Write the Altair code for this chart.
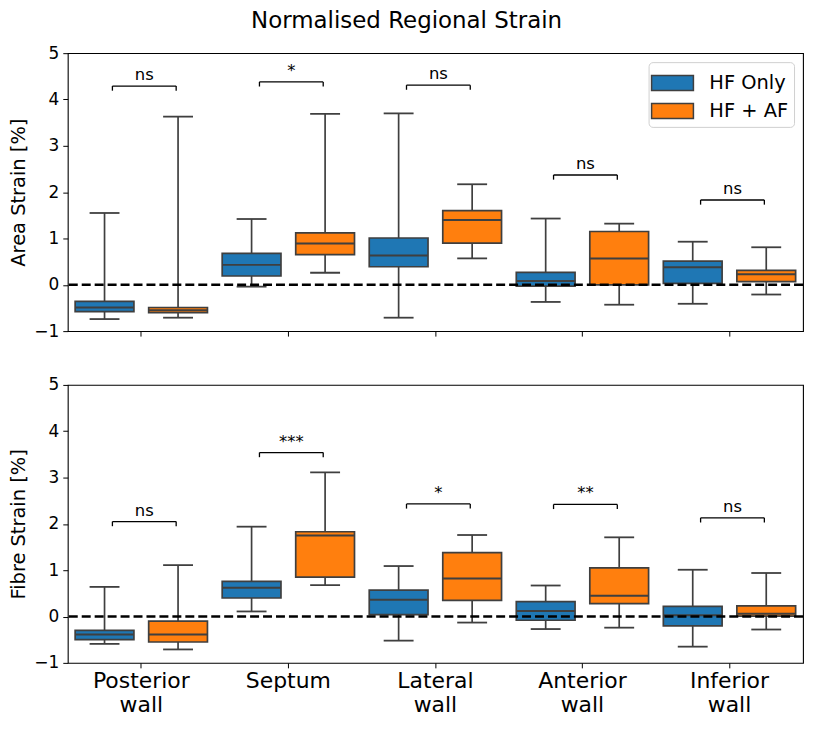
import altair as alt
import pandas as pd

regions = ["Posterior wall", "Septum", "Lateral wall", "Anterior wall", "Inferior wall"]
groups = ["HF Only", "HF + AF"]

# Area strain, HF Only
area_min_hf = [-0.74, -0.04, -0.71, -0.37, -0.41]
area_q1_hf = [-0.58, 0.19, 0.39, -0.03, 0.03]
area_med_hf = [-0.49, 0.43, 0.63, 0.08, 0.38]
area_q3_hf = [-0.36, 0.68, 1.01, 0.27, 0.51]
area_max_hf = [1.55, 1.42, 3.70, 1.43, 0.93]
# Area strain, HF + AF
area_min_af = [-0.71, 0.26, 0.57, -0.43, -0.21]
area_q1_af = [-0.60, 0.65, 0.90, 0.00, 0.07]
area_med_af = [-0.55, 0.89, 1.40, 0.57, 0.23]
area_q3_af = [-0.49, 1.12, 1.60, 1.15, 0.31]
area_max_af = [3.63, 3.69, 2.17, 1.32, 0.81]

# Fibre strain, HF Only
fibre_min_hf = [-0.59, 0.11, -0.52, -0.27, -0.65]
fibre_q1_hf = [-0.50, 0.40, 0.04, -0.08, -0.20]
fibre_med_hf = [-0.39, 0.62, 0.36, 0.12, 0.03]
fibre_q3_hf = [-0.30, 0.76, 0.57, 0.32, 0.22]
fibre_max_hf = [0.64, 1.94, 1.09, 0.67, 1.01]
# Fibre strain, HF + AF
fibre_min_af = [-0.71, 0.68, -0.13, -0.24, -0.28]
fibre_q1_af = [-0.55, 0.85, 0.35, 0.28, 0.01]
fibre_med_af = [-0.39, 1.75, 0.82, 0.45, 0.06]
fibre_q3_af = [-0.10, 1.83, 1.38, 1.05, 0.23]
fibre_max_af = [1.11, 3.11, 1.76, 1.71, 0.94]

# significance brackets
area_bracket = [4.29, 4.38, 4.31, 2.37, 1.83]
area_sig = ["ns", "*", "ns", "ns", "ns"]
fibre_bracket = [2.05, 3.54, 2.43, 2.42, 2.13]
fibre_sig = ["ns", "***", "*", "**", "ns"]

BLUE = "#1f77b4"
ORANGE = "#ff7f0e"
EDGE = "#3f3f3f"
FONT = "DejaVu Sans"


def box_table(stats_hf, stats_af):
    rows = []
    for g, stats in zip(groups, (stats_hf, stats_af)):
        lo, q1, med, q3, hi = stats
        for i, r in enumerate(regions):
            rows.append({"region": r, "group": g, "lo": lo[i], "q1": q1[i],
                         "med": med[i], "q3": q3[i], "hi": hi[i]})
    return pd.DataFrame(rows)


def sig_table(levels, labels):
    return pd.DataFrame({"region": regions, "b": levels, "label": labels})


area_df = box_table((area_min_hf, area_q1_hf, area_med_hf, area_q3_hf, area_max_hf),
                    (area_min_af, area_q1_af, area_med_af, area_q3_af, area_max_af))
fibre_df = box_table((fibre_min_hf, fibre_q1_hf, fibre_med_hf, fibre_q3_hf, fibre_max_hf),
                     (fibre_min_af, fibre_q1_af, fibre_med_af, fibre_q3_af, fibre_max_af))
area_sig_df = sig_table(area_bracket, area_sig)
fibre_sig_df = sig_table(fibre_bracket, fibre_sig)

W, H = 738, 279
BOX_W = 59


def panel(df, sdf, ytitle, bottom, legend):
    xscale = alt.Scale(domain=regions, paddingInner=0, paddingOuter=0)
    if bottom:
        xaxis = alt.Axis(title=None, labelAngle=0, labelExpr="split(datum.label, ' ')",
                         labelFontSize=22, labelLineHeight=24, labelPadding=3,
                         tickSize=5, domain=False, labelColor="black", tickColor="black",
                         labelFont=FONT)
    else:
        xaxis = alt.Axis(title=None, labels=False, tickSize=5, domain=False, tickColor="black")
    yscale = alt.Scale(domain=[-1, 5], nice=False, zero=False)
    yaxis = alt.Axis(title=ytitle, values=[-1, 0, 1, 2, 3, 4, 5], grid=False, domain=False,
                     tickSize=5, tickColor="black", labelFontSize=17, labelColor="black",
                     labelPadding=4, titleFontSize=19.5, titleFontWeight="normal",
                     titleColor="black", titlePadding=5, labelFont=FONT, titleFont=FONT)
    x = alt.X("region:N", sort=regions, scale=xscale, axis=xaxis)
    xo = alt.XOffset("group:N", sort=groups,
                     scale=alt.Scale(domain=groups, paddingInner=0, paddingOuter=0))

    base = alt.Chart(df).encode(x=x, xOffset=xo)
    whisk = base.mark_rule(color=EDGE, strokeWidth=1.7).encode(
        y=alt.Y("lo:Q", scale=yscale, axis=yaxis), y2="hi:Q")
    if legend:
        leg = alt.Legend(title=None, orient="top-right", offset=9, labelFontSize=19.5,
                         labelFont=FONT, labelColor="black",
                         symbolType="M-1.4,-0.5H1.4V0.5H-1.4Z", symbolSize=900,
                         symbolStrokeColor=EDGE, symbolStrokeWidth=1.5, symbolOpacity=1,
                         symbolOffset=3, labelOffset=21, padding=5, rowPadding=1,
                         fillColor="rgba(255,255,255,0.8)", strokeColor="#d0d0d0",
                         cornerRadius=4)
    else:
        leg = None
    boxes = base.mark_bar(width=BOX_W, stroke=EDGE, strokeWidth=1.7, opacity=1).encode(
        y="q1:Q", y2="q3:Q",
        color=alt.Color("group:N", sort=groups,
                        scale=alt.Scale(domain=groups, range=[BLUE, ORANGE]), legend=leg))
    med = base.mark_tick(size=BOX_W, thickness=2, color=EDGE, opacity=1).encode(y="med:Q")
    cap_lo = base.mark_tick(size=30, thickness=1.8, color=EDGE, opacity=1).encode(y="lo:Q")
    cap_hi = base.mark_tick(size=30, thickness=1.8, color=EDGE, opacity=1).encode(y="hi:Q")

    zero = alt.Chart(pd.DataFrame({"z": [0]})).mark_rule(
        color="black", strokeWidth=2.5, strokeDash=[9, 4]).encode(y="z:Q")

    sbase = alt.Chart(sdf).transform_calculate(b2="datum.b - 0.1").encode(x=x)
    bar_h = sbase.mark_tick(size=64, thickness=1.3, color="black", opacity=1,
                            xOffset=3).encode(y="b:Q")
    drop_l = sbase.mark_rule(color="black", strokeWidth=1.3, xOffset=-29).encode(
        y="b:Q", y2="b2:Q")
    drop_r = sbase.mark_rule(color="black", strokeWidth=1.3, xOffset=35).encode(
        y="b:Q", y2="b2:Q")
    txt = sbase.mark_text(fontSize=16.5, font=FONT, color="black", baseline="alphabetic",
                          dy=-6, xOffset=3).encode(y="b:Q", text="label:N")

    return alt.layer(whisk, boxes, med, cap_lo, cap_hi, zero, bar_h, drop_l, drop_r, txt
                     ).properties(width=W, height=H)


top = panel(area_df, area_sig_df, "Area Strain [%]", False, True)
bot = panel(fibre_df, fibre_sig_df, "Fibre Strain [%]", True, False)

chart = alt.vconcat(top, bot, spacing=35).resolve_scale(color="independent").properties(
    title=alt.TitleParams("Normalised Regional Strain", fontSize=23, font=FONT,
                          fontWeight="normal", anchor="middle", color="black", offset=11),
    padding={"left": 0, "top": 0, "right": 0, "bottom": 0},
).configure_view(stroke="black", strokeWidth=1.1).configure_axis(
    labelFont=FONT, titleFont=FONT)

chart.save("out.html", embed_options={"renderer": "svg", "actions": False})
